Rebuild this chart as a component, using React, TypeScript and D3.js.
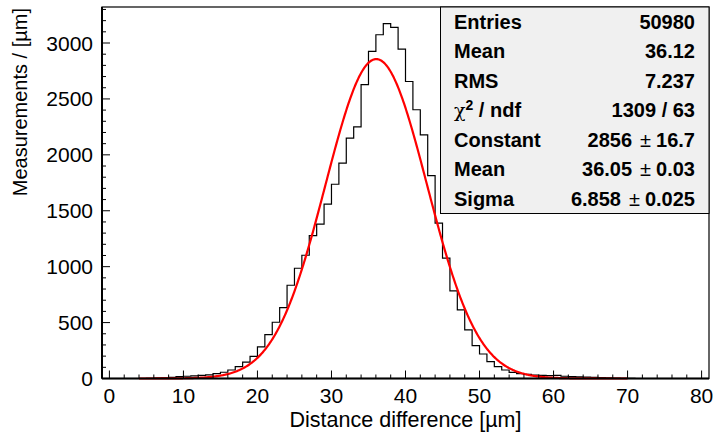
import React from 'react';
import * as d3 from 'd3';

const W = 714;
const H = 432;

// Histogram: bins of width 1 starting at binLow
const binLow = -1;
const binWidth = 1;
const binCounts = [
  0, 0, 0, 0, 0, 0, // -1..4
  2, 3, 6, 10, 16, 20, 23, 28, 33, 43, // 5..14
  56, 76, 106, 146, 197, 282, 392, 503, 634, 834, // 15..24
  986, 1102, 1278, 1380, 1559, 1737, 1926, 2150, 2250, 2627, // 25..34
  2925, 3074, 3173, 3140, 2946, 2656, 2403, 2179, 1815, 1389, // 35..44
  1076, 783, 613, 434, 294, 219, 151, 106, 76, 55, // 45..54
  43, 37, 31, 28, 25, 28, 20, 17, 15, 12, // 55..64
  10, 8, 5, 3, 2, 1, // 65..70
  0, 0, 0, 0, 0, 0, 0, 0, 0, 0, // 71..80
];

const xTickValues = [0, 10, 20, 30, 40, 50, 60, 70, 80];
const yTickValues = [0, 500, 1000, 1500, 2000, 2500, 3000];

const fitConstant = 2856;
const fitMean = 36.05;
const fitSigma = 6.858;
const fitRange = [4, 70];

const statLabels = ['Entries', 'Mean', 'RMS', 'CHI', 'Constant', 'Mean', 'Sigma'];
const statValues = ['50980', '36.12', '7.237', '1309 / 63', '2856|16.7', '36.05|0.03', '6.858|0.025'];

const xTitle = 'Distance difference [\u00b5m]';
const yTitle = 'Measurements / [\u00b5m]';

const frame = { left: 102, right: 709, top: 7, bottom: 378.5 };
const FONT = '"Liberation Sans", Arial, Helvetica, sans-serif';

export default function App() {
  const x = d3.scaleLinear().domain([-1, 81]).range([frame.left, frame.right]);
  const y = d3.scaleLinear().domain([0, 3322]).range([frame.bottom, frame.top]);

  // histogram step outline
  const pts: [number, number][] = [];
  const nBins = binCounts.length;
  pts.push([x(binLow), y(0)]);
  binCounts.forEach((c, i) => {
    const lo = binLow + i * binWidth;
    const hi = lo + binWidth;
    pts.push([x(lo), y(c)]);
    pts.push([x(hi), y(c)]);
  });
  pts.push([x(binLow + nBins * binWidth), y(0)]);
  const histPath = d3.line()(pts) as string;

  // fit curve
  const fitPts: [number, number][] = d3.range(fitRange[0], fitRange[1] + 0.001, 0.1).map((v) => [
    x(v),
    y(fitConstant * Math.exp(-((v - fitMean) ** 2) / (2 * fitSigma * fitSigma))),
  ]);
  const fitPath = d3.line().curve(d3.curveLinear)(fitPts) as string;

  const xMinor = d3.range(0, 81, 2).filter((v) => v % 10 !== 0);
  const yMinor = d3.range(0, 3322, 100).filter((v) => v % 500 !== 0);

  const box = { x0: 440.5, x1: frame.right, y0: frame.top, y1: 213.5 };
  const rowH = (box.y1 - box.y0) / statLabels.length;

  const renderLabel = (l: string) => {
    if (l === 'CHI') {
      return (
        <>
          <tspan fontWeight="normal" fontFamily='"DejaVu Serif", serif' fontSize={19}>χ</tspan>
          <tspan dy={-7} fontSize={14}>2</tspan>
          <tspan dy={7}> / ndf</tspan>
        </>
      );
    }
    return l;
  };
  const renderValue = (v: string) => {
    if (v.includes('|')) {
      const [a, b] = v.split('|');
      return (
        <>
          {a}
          <tspan dx={8} fontWeight="normal">±</tspan>
          <tspan dx={5}>{b}</tspan>
        </>
      );
    }
    return v;
  };

  return (
    <svg width={W} height={H} style={{ position: 'fixed', left: 0, top: 0, background: '#fff' }} fontFamily={FONT}>
      <rect x={0} y={0} width={W} height={H} fill="#fff" />
      {/* histogram */}
      <path d={histPath} fill="none" stroke="#000" strokeWidth={1.2} />
      {/* fit */}
      <path d={fitPath} fill="none" stroke="#ff0000" strokeWidth={2.2} />

      {/* frame */}
      <rect
        x={frame.left}
        y={frame.top}
        width={frame.right - frame.left}
        height={frame.bottom - frame.top}
        fill="none"
        stroke="#000"
        strokeWidth={1.2}
      />
      <line x1={frame.left} x2={frame.left} y1={frame.top} y2={frame.bottom} stroke="#000" strokeWidth={2} />
      <line x1={frame.left} x2={frame.right} y1={frame.bottom} y2={frame.bottom} stroke="#000" strokeWidth={2} />

      {/* x ticks */}
      {xTickValues.map((v) => (
        <g key={'xt' + v}>
          <line x1={x(v)} x2={x(v)} y1={frame.bottom} y2={frame.bottom - 8} stroke="#000" strokeWidth={1} />
          <text x={x(v)} y={402.5} textAnchor="middle" fontSize={21}>
            {v}
          </text>
        </g>
      ))}
      {xMinor.map((v) => (
        <line key={'xm' + v} x1={x(v)} x2={x(v)} y1={frame.bottom} y2={frame.bottom - 4} stroke="#000" strokeWidth={1} />
      ))}

      {/* y ticks */}
      {yTickValues.map((v) => (
        <g key={'yt' + v}>
          <line x1={frame.left} x2={frame.left + 8} y1={y(v)} y2={y(v)} stroke="#000" strokeWidth={1} />
          <text x={93} y={y(v) + 7.5} textAnchor="end" fontSize={21}>
            {v}
          </text>
        </g>
      ))}
      {yMinor.map((v) => (
        <line key={'ym' + v} x1={frame.left} x2={frame.left + 4} y1={y(v)} y2={y(v)} stroke="#000" strokeWidth={1} />
      ))}

      {/* axis titles */}
      <text x={(frame.left + frame.right) / 2} y={426.5} textAnchor="middle" fontSize={21.5}>
        {xTitle}
      </text>
      <text transform={`translate(27, ${frame.top + 1}) rotate(-90)`} textAnchor="end" fontSize={20}>
        {yTitle}
      </text>

      {/* stats box */}
      <rect x={box.x0} y={box.y0} width={box.x1 - box.x0} height={box.y1 - box.y0} fill="#f0f0f0" stroke="#000" strokeWidth={1} />
      {statLabels.map((l, i) => {
        const cy = box.y0 + rowH * (i + 0.5);
        return (
          <g key={'st' + i} fontWeight="bold" fontSize={20}>
            <text x={454} y={cy + 7}>
              {renderLabel(l)}
            </text>
            <text x={695} y={cy + 7} textAnchor="end">
              {renderValue(statValues[i])}
            </text>
          </g>
        );
      })}
    </svg>
  );
}
